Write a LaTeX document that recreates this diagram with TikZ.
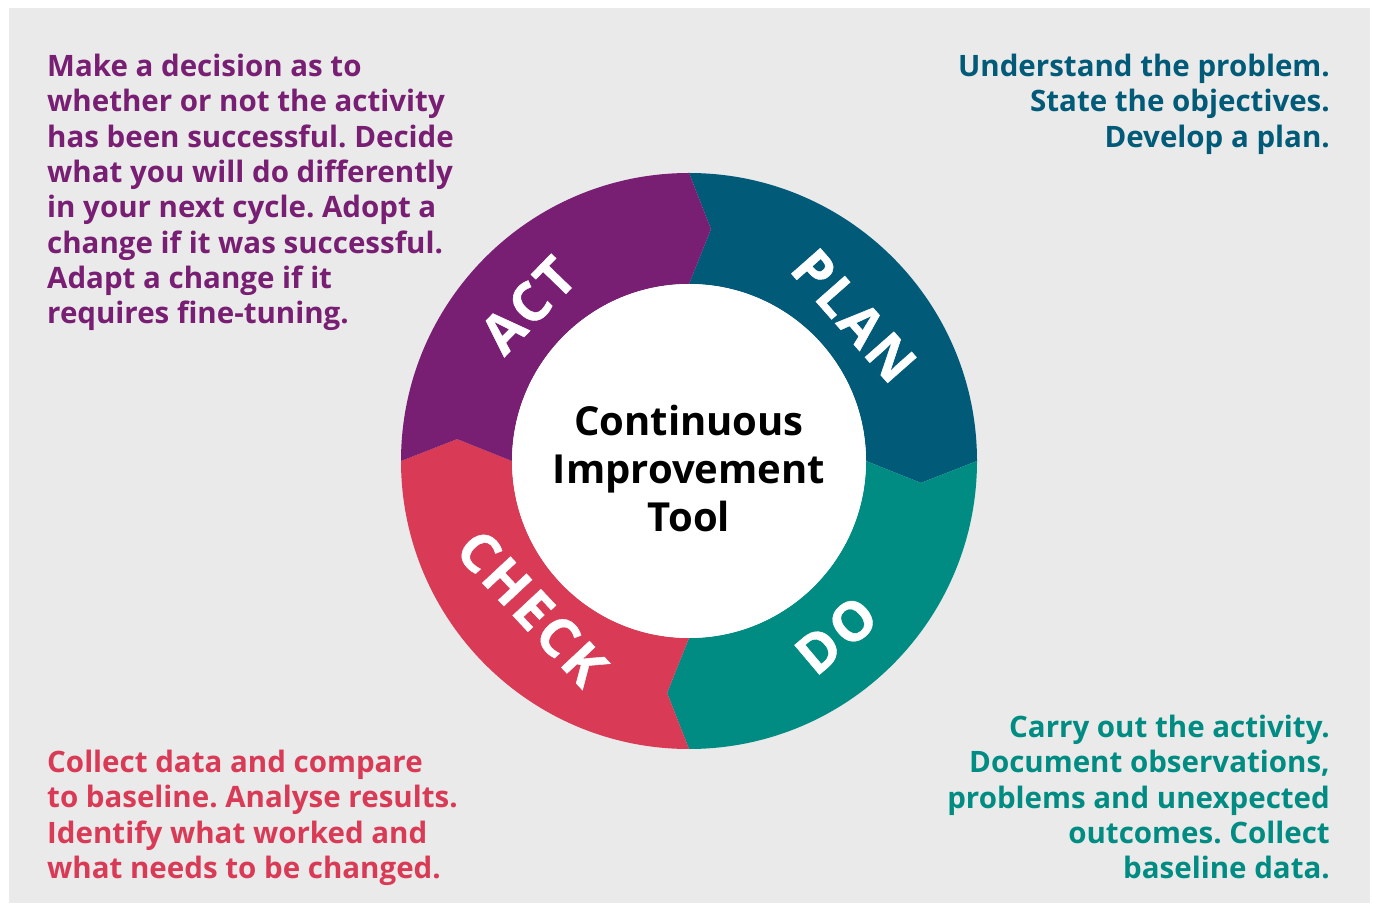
\documentclass[tikz,border=0pt]{standalone}
\usepackage{fontspec}
\setmainfont{Open Sans}
\newfontfamily\ringfont[LetterSpace=6,FakeBold=0.8]{Open Sans}
\usetikzlibrary{calc}

\definecolor{plancol}{RGB}{0,90,120}
\definecolor{docol}{RGB}{0,140,130}
\definecolor{checkcol}{RGB}{217,58,86}
\definecolor{actcol}{RGB}{120,30,115}
\definecolor{bgcol}{RGB}{234,234,234}

% One quarter of the ring, running clockwise from angle #2,
% with a notch at its start and an arrow point at its end.
\newcommand\pdcaSegment[2]{%
  \fill[#1] (#2:288) arc[start angle=#2, end angle=#2-90, radius=288]
    -- ({#2-95.4}:233) -- ({#2-90}:177)
    arc[start angle=#2-90, end angle=#2, radius=177]
    -- ({#2-5.4}:233) -- cycle;}

\begin{document}
\frenchspacing
\begin{tikzpicture}[x=1pt,y=1pt,
  note/.style={inner sep=0pt, font=\fontsize{29.5}{35.3}\selectfont\bfseries},
  ringlabel/.style={inner sep=0pt, text=white,
    font=\ringfont\fontsize{54}{54}\selectfont\bfseries},
  titletext/.style={inner sep=0pt, align=center,
    font=\fontsize{40}{48}\selectfont\bfseries}]
\useasboundingbox (0,0) rectangle (1373,903);
\fill[bgcol] (9,0) rectangle (1370,895);

\coordinate (C) at (689,442);
\begin{scope}[shift={(C)}]
  \pdcaSegment{plancol}{90}
  \pdcaSegment{docol}{0}
  \pdcaSegment{checkcol}{-90}
  \pdcaSegment{actcol}{180}
  \fill[white] (0,0) circle[radius=177];

  \node[ringlabel, rotate=-48.6] (plan)  at (41.4:220)  {PLAN};
  \node[ringlabel, rotate=40.2]  (do)    at (-49.8:228) {DO};
  \node[ringlabel, rotate=-46.9] (check) at (223.1:215) {CHECK};
  \node[ringlabel, rotate=45.9]  (act)   at (135.9:224) {ACT};
\end{scope}

\node[titletext] (title) at (689,434) {Continuous\\Improvement\\Tool};

\node[note, text=actcol, align=left, anchor=north west] (actnote) at (47,849)
  {Make a decision as to\\whether or not the activity\\has been successful. Decide\\what you will do differently\\in your next cycle. Adopt a\\change if it was successful.\\Adapt a change if it\\requires fine-tuning.};
\node[note, text=plancol, align=right, anchor=north east] (plannote) at (1330,849)
  {Understand the problem.\\State the objectives.\\Develop a plan.};
\node[note, text=docol, align=right, anchor=north east] (donote) at (1330,188)
  {Carry out the activity.\\Document observations,\\problems and unexpected\\outcomes. Collect\\baseline data.};
\node[note, text=checkcol, align=left, anchor=north west] (checknote) at (47,153)
  {Collect data and compare\\to baseline. Analyse results.\\Identify what worked and\\what needs to be changed.};
\end{tikzpicture}
\end{document}
